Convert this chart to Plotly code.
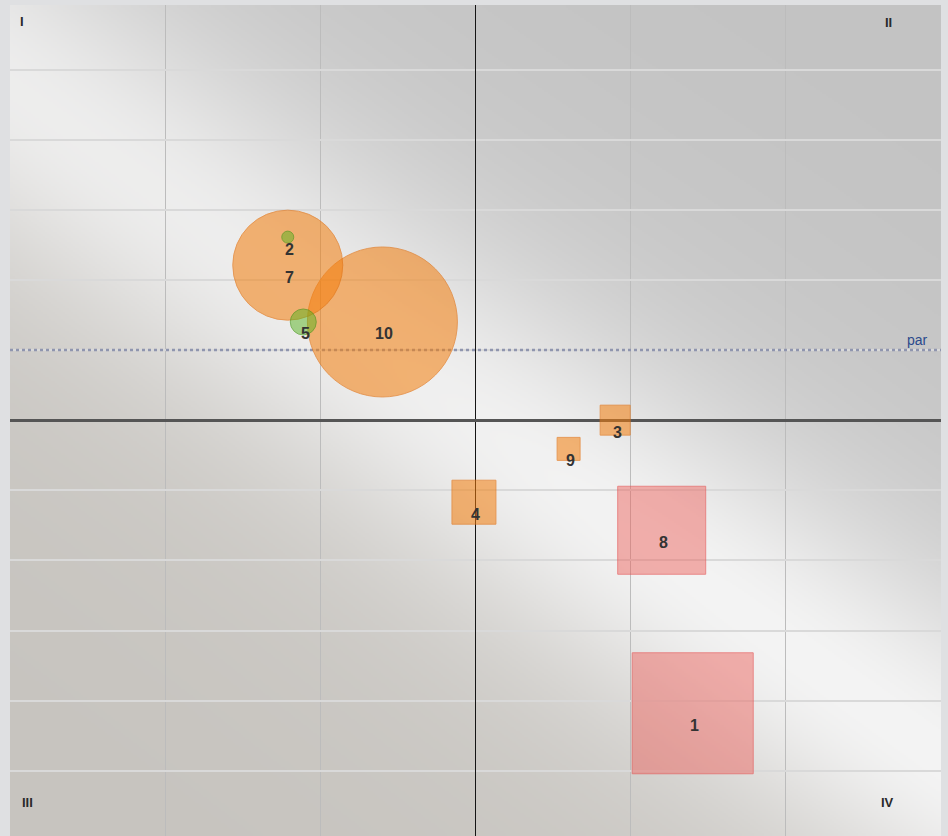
import base64
import struct
import zlib

import numpy as np
import plotly.graph_objects as go

# ---------------- data ----------------
point_labels = ["1", "2", "3", "4", "5", "7", "8", "9", "10"]
x_vals = [1.40, -1.21, 0.90, -0.01, -1.11, -1.21, 1.20, 0.60, -0.60]
y_vals = [-4.18, 2.61, 0.00, -1.17, 1.40, 2.21, -1.57, -0.41, 1.40]
bubble_sizes = [121, 12, 30, 44, 26, 110, 88, 23, 150]
kinds = ["square", "circle", "square", "square", "circle", "circle", "square", "square", "circle"]
groups = ["red", "green", "orange", "orange", "green", "orange", "red", "orange", "orange"]

par_value = 1.0
par_label = "par"
quadrant_labels = ["I", "II", "III", "IV"]
x_range = [-3.0, 3.0]
y_range = [-5.93, 5.92]

# ---------------- styles ----------------
fill_colors = {
    "orange": "rgba(244,126,12,0.78)",
    "green": "rgba(85,180,30,0.70)",
    "red": "rgba(238,98,92,0.68)",
}
line_colors = {
    "orange": "rgba(225,112,15,0.9)",
    "green": "rgba(70,150,25,0.9)",
    "red": "rgba(228,80,80,0.9)",
}

W, H = 948, 836
ML, MR, MT, MB = 10, 7, 5, 0
PW, PH = W - ML - MR, H - MT - MB


# ---------------- background (metallic diagonal sheen) ----------------
def make_png(arr):
    h, w, _ = arr.shape
    raw = b"".join(b"\x00" + arr[i].tobytes() for i in range(h))

    def chunk(t, d):
        return struct.pack(">I", len(d)) + t + d + struct.pack(">I", zlib.crc32(t + d) & 0xFFFFFFFF)

    return (b"\x89PNG\r\n\x1a\n"
            + chunk(b"IHDR", struct.pack(">IIBBBBB", w, h, 8, 2, 0, 0, 0))
            + chunk(b"IDAT", zlib.compress(raw, 9))
            + chunk(b"IEND", b""))


gw, gh = PW // 2, PH // 2
px = np.linspace(0, PW, gw)[None, :]
py = np.linspace(0, PH, gh)[:, None]
cx, cy = PW / 2.0, PH / 2.0
slope = 0.72
d = ((py - cy) - slope * (px - cx)) / np.sqrt(1 + slope ** 2)
t = 1.0 / (1.0 + np.exp(-d / 50.0))
base_r = 195 + (199 - 195) * t
base_g = 195 + (196 - 195) * t
base_b = 195 + (191 - 195) * t
hl = 0.75 * np.exp(-(d / 140.0) ** 2) + 0.25 * np.exp(-(d / 300.0) ** 2)
along = ((px - cx) + slope * (py - cy)) / np.sqrt(1 + slope ** 2)
hl = np.clip(hl * (0.93 + 0.07 * np.tanh(along / 200.0)), 0, 1)
top = 244.0
img = np.stack([
    base_r + (top - base_r) * hl,
    base_g + (top - base_g) * hl,
    base_b + (top - base_b) * hl,
], axis=-1)
img = np.clip(img, 0, 255).astype(np.uint8)
bg_uri = "data:image/png;base64," + base64.b64encode(make_png(img)).decode()

# ---------------- figure ----------------
order = sorted(range(len(point_labels)), key=lambda i: -bubble_sizes[i])

fig = go.Figure()
fig.add_trace(go.Scatter(
    x=x_range, y=[par_value, par_value], mode="lines",
    line=dict(color="#8f95ae", width=2.5, dash="dot"),
    hoverinfo="skip", showlegend=False,
))
fig.add_trace(go.Scatter(
    x=[x_vals[i] for i in order],
    y=[y_vals[i] for i in order],
    mode="markers",
    marker=dict(
        symbol=[kinds[i] for i in order],
        size=[bubble_sizes[i] for i in order],
        color=[fill_colors[groups[i]] for i in order],
        line=dict(color=[line_colors[groups[i]] for i in order], width=1),
        sizemode="diameter",
    ),
    text=[point_labels[i] for i in order],
    hoverinfo="text",
    showlegend=False,
))

annotations = []
for lab, xv, yv in zip(point_labels, x_vals, y_vals):
    annotations.append(dict(
        x=xv, y=yv, xref="x", yref="y", text="<b>%s</b>" % lab, showarrow=False,
        yshift=-12, xshift=2,
        font=dict(family="Liberation Sans, Arial", size=16, color="#333333"),
    ))

annotations.append(dict(
    x=1, y=par_value, xref="paper", yref="y", text=par_label, showarrow=False,
    xanchor="right", yanchor="bottom", xshift=-11, yshift=0,
    font=dict(family="Liberation Sans, Arial", size=14, color="#2b4a8c"),
))

qpos = [(0, 1, "left", "top", 8, -7), (1, 1, "right", "top", -47, -8),
        (0, 0, "left", "bottom", 10, 24), (1, 0, "right", "bottom", -45, 24)]
for lab, (qx, qy, xa, ya, xs, ys) in zip(quadrant_labels, qpos):
    annotations.append(dict(
        x=qx, y=qy, xref="paper", yref="paper", text="<b>%s</b>" % lab, showarrow=False,
        xanchor=xa, yanchor=ya, xshift=xs, yshift=ys,
        font=dict(family="Liberation Sans, Arial", size=13, color="#2a2a2a"),
    ))

fig.update_layout(
    width=W, height=H,
    margin=dict(l=ML, r=MR, t=MT, b=MB, pad=0),
    paper_bgcolor="#dfe0e2",
    plot_bgcolor="#c4c4c4",
    showlegend=False,
    xaxis=dict(range=x_range, dtick=1, tick0=0, showticklabels=False, ticks="",
               showgrid=True, gridcolor="#bcbcbc", gridwidth=1,
               zeroline=True, zerolinecolor="#151515", zerolinewidth=1,
               showline=False, fixedrange=True),
    yaxis=dict(range=y_range, dtick=1, tick0=0, showticklabels=False, ticks="",
               showgrid=True, gridcolor="#d9d9d9", gridwidth=2,
               zeroline=True, zerolinecolor="#555555", zerolinewidth=3,
               showline=False, fixedrange=True),
    images=[dict(source=bg_uri, xref="paper", yref="paper", x=0, y=1,
                 sizex=1, sizey=1, sizing="stretch", xanchor="left", yanchor="top",
                 layer="below")],
    annotations=annotations,
)

fig.write_html("out.html", config={"displayModeBar": False},
               post_script="document.body.style.margin='0px';document.body.style.overflow='hidden';")
